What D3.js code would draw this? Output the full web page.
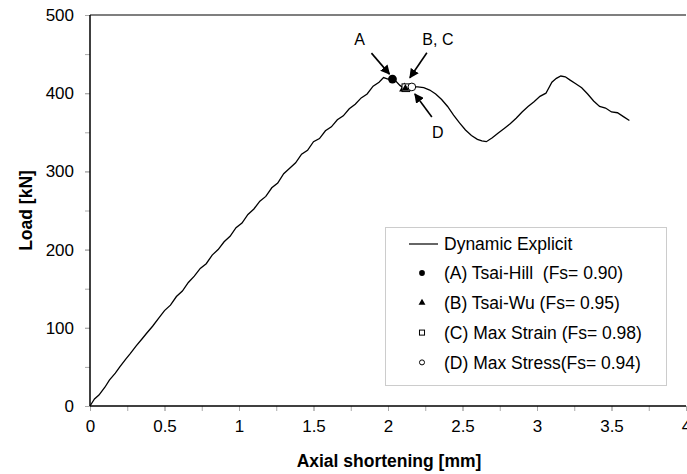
<!DOCTYPE html>
<html>
<head>
<meta charset="utf-8">
<script src="https://cdn.jsdelivr.net/npm/d3@7"></script>
<style>
  body { margin: 0; background: #fff; }
  svg { font-family: "Liberation Sans", Arial, sans-serif; }
  text { white-space: pre; }
</style>
</head>
<body>
<div id="chart-area"></div>
<script>
// shortening [mm] and load [kN] of the dynamic explicit run
var shortening = [0, 0.03, 0.06, 0.1, 0.13, 0.17, 0.2, 0.24, 0.27, 0.31, 0.35, 0.38, 0.42, 0.46, 0.5,
    0.54, 0.58, 0.62, 0.66, 0.7, 0.74, 0.78, 0.82, 0.86, 0.9, 0.94, 0.98, 1.02, 1.06, 1.1,
    1.14, 1.18, 1.22, 1.26, 1.3, 1.34, 1.38, 1.42, 1.46, 1.5, 1.54, 1.58, 1.62, 1.66, 1.7,
    1.74, 1.78, 1.82, 1.86, 1.9, 1.94, 1.97, 2.0, 2.04, 2.08, 2.11, 2.14, 2.17, 2.2, 2.24,
    2.28, 2.32, 2.36, 2.4, 2.44, 2.48, 2.52, 2.56, 2.6, 2.63, 2.66, 2.7, 2.74, 2.78, 2.82,
    2.86, 2.9, 2.94, 2.98, 3.02, 3.06, 3.1, 3.13, 3.16, 3.19, 3.22, 3.26, 3.3, 3.34, 3.38,
    3.42, 3.46, 3.5, 3.54, 3.58, 3.62];
var load = [0, 9, 14, 24, 33, 42, 50, 60, 67, 77, 86, 93, 102, 112, 122,
    129, 140, 147, 158, 166, 176, 182, 193, 200, 210, 217, 228, 234, 245, 252,
    262, 268, 279, 285, 297, 304, 311, 322, 327, 338, 342, 352, 357, 366, 371,
    380, 386, 394, 399, 409, 414, 420, 418, 418, 410, 406, 407, 408, 408, 407,
    404, 399, 392, 383, 372, 362, 353, 346, 341, 339, 338, 343, 349, 355, 361,
    368, 376, 383, 389, 396, 400, 414, 419, 422, 421, 417, 412, 407, 399, 390,
    383, 381, 376, 375, 370, 365];

// failure criteria points
var critNames = ["(A) Tsai-Hill  (Fs= 0.90)", "(B) Tsai-Wu (Fs= 0.95)", "(C) Max Strain (Fs= 0.98)", "(D) Max Stress(Fs= 0.94)"];
var critKeys = ["A", "B", "C", "D"];
var critX = [2.03, 2.11, 2.12, 2.16];
var critY = [418, 406, 407, 408];

var xTicks = [0, 0.5, 1, 1.5, 2, 2.5, 3, 3.5, 4];
var yTicks = [0, 100, 200, 300, 400, 500];

var margin = {top: 15, right: 1, bottom: 68, left: 90},
    width = 687 - margin.left - margin.right,
    height = 474 - margin.top - margin.bottom;

var svg = d3.select("#chart-area")
    .append("svg")
        .attr("width", 687)
        .attr("height", 474);

var g = svg.append("g")
    .attr("transform", "translate(" + margin.left + "," + margin.top + ")");

var x = d3.scaleLinear().domain([0, 4]).range([0, width]);
var y = d3.scaleLinear().domain([0, 500]).range([height, 0]);

// minor ticks
g.append("g")
    .attr("class", "x minor")
    .attr("transform", "translate(0," + height + ")")
    .call(d3.axisBottom(x).tickValues(d3.range(0, 4.01, 0.25)).tickSize(5).tickFormat(""));
g.append("g")
    .attr("class", "y minor")
    .call(d3.axisLeft(y).tickValues(d3.range(0, 501, 50)).tickSize(5).tickFormat(""));

// labels
g.append("g")
    .attr("class", "x axis")
    .attr("transform", "translate(0," + height + ")")
    .call(d3.axisBottom(x).tickValues(xTicks).tickSize(5).tickPadding(9).tickFormat(d3.format("")));
g.append("g")
    .attr("class", "y axis")
    .call(d3.axisLeft(y).tickValues(yTicks).tickSize(5).tickPadding(11));

g.selectAll(".tick line").attr("stroke", "#aaa");
g.selectAll(".domain").remove();
g.selectAll(".axis text").attr("font-size", "17px").attr("fill", "#000");

// frame: left, bottom, top
g.append("line").attr("x1", 0).attr("x2", 0).attr("y1", 0).attr("y2", height)
    .attr("stroke", "#000").attr("stroke-width", 1.5);
g.append("line").attr("x1", 0).attr("x2", width).attr("y1", height).attr("y2", height)
    .attr("stroke", "#000").attr("stroke-width", 1.5);
g.append("line").attr("x1", 0).attr("x2", width).attr("y1", 0).attr("y2", 0)
    .attr("stroke", "#000").attr("stroke-width", 1.2);

// titles
g.append("text")
    .attr("x", width / 2 + 1)
    .attr("y", height + 61)
    .attr("font-size", "17.5px")
    .attr("font-weight", "bold")
    .attr("text-anchor", "middle")
    .text("Axial shortening [mm]");

g.append("text")
    .attr("x", -(height / 2))
    .attr("y", -58)
    .attr("font-size", "17.5px")
    .attr("font-weight", "bold")
    .attr("text-anchor", "middle")
    .attr("transform", "rotate(-90)")
    .text("Load [kN]");

// curve
var pts = shortening.map((s, i) => [s, load[i]]);
var line = d3.line().x(d => x(d[0])).y(d => y(d[1]));
g.append("path")
    .datum(pts)
    .attr("fill", "none")
    .attr("stroke", "#000")
    .attr("stroke-width", 1.3)
    .attr("d", line);

// markers
function marker(sel, key, cx, cy, s) {
    if (key === "A") {
        sel.append("circle").attr("cx", cx).attr("cy", cy).attr("r", s * 0.8).attr("fill", "#000");
    } else if (key === "B") {
        sel.append("path")
            .attr("d", d3.symbol(d3.symbolTriangle, s * s * 1.6)())
            .attr("transform", "translate(" + cx + "," + cy + ")")
            .attr("fill", "#000");
    } else if (key === "C") {
        sel.append("rect").attr("x", cx - s * 0.7).attr("y", cy - s * 0.7)
            .attr("width", s * 1.4).attr("height", s * 1.4)
            .attr("fill", "#fff").attr("stroke", "#000").attr("stroke-width", 1);
    } else {
        sel.append("circle").attr("cx", cx).attr("cy", cy).attr("r", s * 0.7)
            .attr("fill", "#fff").attr("stroke", "#000").attr("stroke-width", 1);
    }
}

critKeys.forEach((k, i) => {
    marker(g, k, x(critX[i]), y(critY[i]), 5.5);
});
// B sits inside C
marker(g, "B", x(critX[1]) + 1, y(critY[1]), 4);

// annotations
svg.append("defs").append("marker")
    .attr("id", "arr")
    .attr("viewBox", "0 0 10 10")
    .attr("refX", 9).attr("refY", 5)
    .attr("markerWidth", 6).attr("markerHeight", 6)
    .attr("orient", "auto")
    .append("path").attr("d", "M0,0 L10,5 L0,10 z").attr("fill", "#000");

var notes = [
    {t: "A", tx: -33, ty: -38, x1: -21, y1: -26, x2: -3, y2: -5, px: critX[0], py: critY[0]},
    {t: "B, C", tx: 32, ty: -47, x1: 21, y1: -35, x2: 4, y2: -10, px: critX[2], py: critY[2]},
    {t: "D", tx: 26, ty: 47, x1: 20, y1: 30, x2: 3, y2: 7, px: critX[3], py: critY[3]}
];
notes.forEach(n => {
    var cx = x(n.px), cy = y(n.py);
    g.append("text")
        .attr("x", cx + n.tx).attr("y", cy + n.ty)
        .attr("font-size", "16px")
        .attr("text-anchor", "middle")
        .attr("dominant-baseline", "middle")
        .text(n.t);
    g.append("line")
        .attr("x1", cx + n.x1).attr("y1", cy + n.y1)
        .attr("x2", cx + n.x2).attr("y2", cy + n.y2)
        .attr("stroke", "#000").attr("stroke-width", 1.6)
        .attr("marker-end", "url(#arr)");
});

// legend
var lg = svg.append("g").attr("transform", "translate(385,227)");
lg.append("rect")
    .attr("x", 0.5).attr("y", 0.5)
    .attr("width", 281).attr("height", 158)
    .attr("fill", "#fff").attr("stroke", "#ccc");

lg.append("line").attr("x1", 24).attr("x2", 53).attr("y1", 17).attr("y2", 17)
    .attr("stroke", "#000").attr("stroke-width", 1.2);
lg.append("text").attr("x", 59).attr("y", 17).attr("dy", "0.35em")
    .attr("font-size", "17.5px").text("Dynamic Explicit");

critNames.forEach((name, i) => {
    var ry = 46 + i * 29.8;
    marker(lg, critKeys[i], 37, ry, 3.6);
    lg.append("text").attr("x", 59).attr("y", ry).attr("dy", "0.35em")
        .attr("font-size", "17.5px").text(name);
});
</script>
</body>
</html>
